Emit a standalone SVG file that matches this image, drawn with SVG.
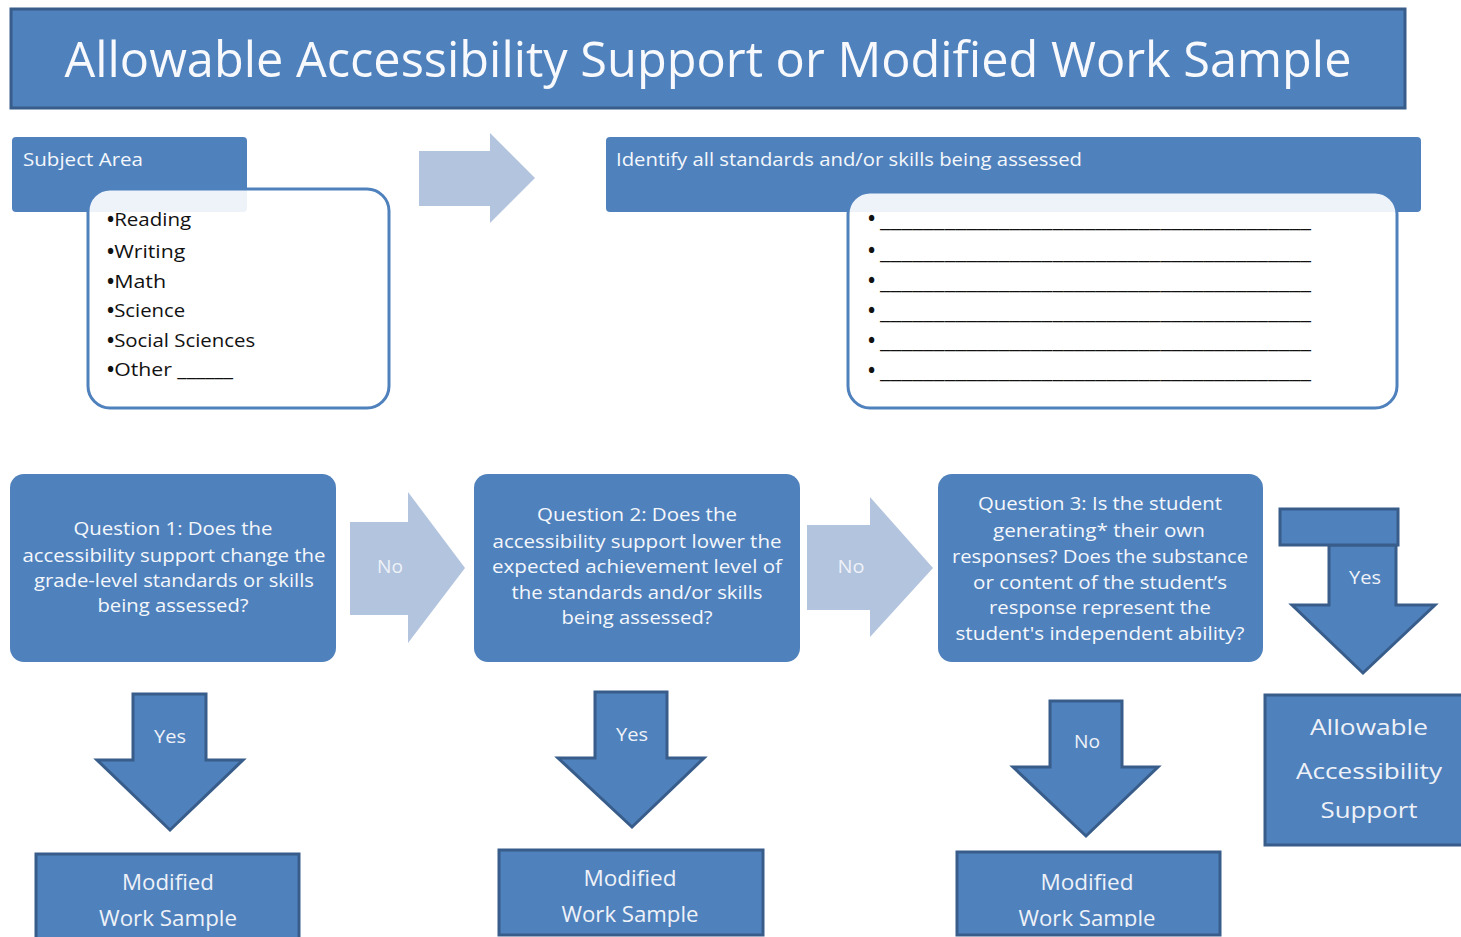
<svg xmlns="http://www.w3.org/2000/svg" width="1461" height="937" viewBox="0 0 1461 937">
<style>
text{font-family:"Open Sans","Noto Sans","Liberation Sans",sans-serif}
.fill{fill:#4F81BD}
.dark{fill:#4F81BD;stroke:#385D8A;stroke-width:3}
.light{fill:#B3C4DE}
.w{fill:#F4F7FB}
.q{font-size:19px;fill:#F4F7FB;text-anchor:middle}
.k{font-size:18.5px;fill:#111}
.b{font-size:19px;font-weight:bold}
.lab{font-size:18px;fill:#EEF2F8;text-anchor:middle}
.mod{font-size:22px;fill:#EEF2F8;text-anchor:middle}
.box{fill:#FFFFFF;fill-opacity:0.9;stroke:#4F81BD;stroke-width:3}
</style>
<defs>
<clipPath id="clip3"><rect x="957" y="852" width="263" height="75"/></clipPath>
</defs>
<rect width="1461" height="937" fill="#FFFFFF"/>

<g id="title">
<rect class="dark" x="11" y="9" width="1394" height="99"/>
<text x="708" y="77" font-size="50" fill="#F7F9FC" text-anchor="middle" textLength="1287" lengthAdjust="spacingAndGlyphs">Allowable Accessibility Support or Modified Work Sample</text>
</g>

<g id="subject-area">
<rect class="fill" x="12" y="137" width="235" height="75" rx="4"/>
<text x="23" y="166" font-size="19" class="w" textLength="120" lengthAdjust="spacingAndGlyphs">Subject Area</text>
<rect class="box" x="88" y="189" width="301" height="219" rx="22"/>
<text class="k" x="107" y="226"><tspan class="b">•</tspan><tspan textLength="77" lengthAdjust="spacingAndGlyphs">Reading</tspan></text>
<text class="k" x="107" y="258"><tspan class="b">•</tspan><tspan textLength="71" lengthAdjust="spacingAndGlyphs">Writing</tspan></text>
<text class="k" x="107" y="288"><tspan class="b">•</tspan><tspan textLength="52" lengthAdjust="spacingAndGlyphs">Math</tspan></text>
<text class="k" x="107" y="317"><tspan class="b">•</tspan><tspan textLength="71" lengthAdjust="spacingAndGlyphs">Science</tspan></text>
<text class="k" x="107" y="347"><tspan class="b">•</tspan><tspan textLength="141" lengthAdjust="spacingAndGlyphs">Social Sciences</tspan></text>
<text class="k" x="107" y="376"><tspan class="b">•</tspan><tspan textLength="119" lengthAdjust="spacingAndGlyphs">Other ______</tspan></text>
</g>

<g id="standards">
<rect class="fill" x="606" y="137" width="815" height="75" rx="4"/>
<text x="616" y="166" font-size="19" class="w" textLength="466" lengthAdjust="spacingAndGlyphs">Identify all standards and/or skills being assessed</text>
<rect class="box" x="848" y="192" width="549" height="216" rx="22"/>
<g class="k">
<text x="868" y="225" class="b">•</text><text x="880" y="227" textLength="431" lengthAdjust="spacingAndGlyphs">________________________________________</text>
<text x="868" y="257" class="b">•</text><text x="880" y="259" textLength="431" lengthAdjust="spacingAndGlyphs">________________________________________</text>
<text x="868" y="287" class="b">•</text><text x="880" y="289" textLength="431" lengthAdjust="spacingAndGlyphs">________________________________________</text>
<text x="868" y="317" class="b">•</text><text x="880" y="319" textLength="431" lengthAdjust="spacingAndGlyphs">________________________________________</text>
<text x="868" y="347" class="b">•</text><text x="880" y="348" textLength="431" lengthAdjust="spacingAndGlyphs">________________________________________</text>
<text x="868" y="377" class="b">•</text><text x="880" y="378" textLength="431" lengthAdjust="spacingAndGlyphs">________________________________________</text>
</g>
</g>

<g id="question1">
<rect class="fill" x="10" y="474" width="326" height="188" rx="14"/>
<text class="q" x="173" y="535" textLength="199" lengthAdjust="spacingAndGlyphs">Question 1: Does the</text>
<text class="q" x="174" y="562" textLength="303" lengthAdjust="spacingAndGlyphs">accessibility support change the</text>
<text class="q" x="174" y="587" textLength="280" lengthAdjust="spacingAndGlyphs">grade-level standards or skills</text>
<text class="q" x="173" y="612" textLength="151" lengthAdjust="spacingAndGlyphs">being assessed?</text>
</g>

<g id="question2">
<rect class="fill" x="474" y="474" width="326" height="188" rx="14"/>
<text class="q" x="637" y="521" textLength="200" lengthAdjust="spacingAndGlyphs">Question 2: Does the</text>
<text class="q" x="637" y="548" textLength="289" lengthAdjust="spacingAndGlyphs">accessibility support lower the</text>
<text class="q" x="637" y="573" textLength="290" lengthAdjust="spacingAndGlyphs">expected achievement level of</text>
<text class="q" x="637" y="599" textLength="251" lengthAdjust="spacingAndGlyphs">the standards and/or skills</text>
<text class="q" x="637" y="624" textLength="151" lengthAdjust="spacingAndGlyphs">being assessed?</text>
</g>

<g id="question3">
<rect class="fill" x="938" y="474" width="325" height="188" rx="14"/>
<text class="q" x="1100" y="510" textLength="244" lengthAdjust="spacingAndGlyphs">Question 3: Is the student</text>
<text class="q" x="1099" y="537" textLength="212" lengthAdjust="spacingAndGlyphs">generating* their own</text>
<text class="q" x="1100" y="563" textLength="296" lengthAdjust="spacingAndGlyphs">responses? Does the substance</text>
<text class="q" x="1100" y="589" textLength="254" lengthAdjust="spacingAndGlyphs">or content of the student’s</text>
<text class="q" x="1100" y="614" textLength="222" lengthAdjust="spacingAndGlyphs">response represent the</text>
<text class="q" x="1100" y="640" textLength="289" lengthAdjust="spacingAndGlyphs">student's independent ability?</text>
</g>

<g id="modified1">
<rect class="dark" x="36" y="854" width="263" height="100"/>
<text class="mod" x="168" y="890" textLength="92" lengthAdjust="spacingAndGlyphs">Modified</text>
<text class="mod" x="168" y="926" textLength="138" lengthAdjust="spacingAndGlyphs">Work Sample</text>
</g>

<g id="modified2">
<rect class="dark" x="499" y="850" width="264" height="85"/>
<text class="mod" x="630" y="886" textLength="93" lengthAdjust="spacingAndGlyphs">Modified</text>
<text class="mod" x="630" y="922" textLength="137" lengthAdjust="spacingAndGlyphs">Work Sample</text>
</g>

<g id="modified3">
<rect class="dark" x="957" y="852" width="263" height="83"/>
<text class="mod" x="1087" y="890" textLength="93" lengthAdjust="spacingAndGlyphs">Modified</text>
<text class="mod" x="1087" y="926" textLength="137" lengthAdjust="spacingAndGlyphs" clip-path="url(#clip3)">Work Sample</text>
</g>

<g id="allowable">
<rect class="dark" x="1265" y="695" width="210" height="150"/>
<text class="mod" x="1369" y="735" font-size="27" textLength="118" lengthAdjust="spacingAndGlyphs">Allowable</text>
<text class="mod" x="1369" y="779" font-size="27" textLength="146" lengthAdjust="spacingAndGlyphs">Accessibility</text>
<text class="mod" x="1369" y="818" font-size="27" textLength="97" lengthAdjust="spacingAndGlyphs">Support</text>
</g>

<g id="connectors">
<polygon class="light" points="419,151 490,151 490,133 535,178 490,223 490,206 419,206"/>
<polygon class="light" points="350,522 408,522 408,492 465,568 408,643 408,615 350,615"/>
<text class="lab" x="390" y="573" textLength="26" lengthAdjust="spacingAndGlyphs">No</text>
<polygon class="light" points="807,525 870,525 870,497 933,568 870,637 870,610 807,610"/>
<text class="lab" x="851" y="573" textLength="27" lengthAdjust="spacingAndGlyphs">No</text>

<polygon class="dark" points="133,694 206,694 206,760 243,760 170,830 97,760 133,760"/>
<text class="lab" x="170" y="743" textLength="32" lengthAdjust="spacingAndGlyphs">Yes</text>
<polygon class="dark" points="595,692 667,692 667,758 704,758 632,827 558,758 595,758"/>
<text class="lab" x="632" y="741" textLength="32" lengthAdjust="spacingAndGlyphs">Yes</text>
<polygon class="dark" points="1050,701 1122,701 1122,767 1158,767 1086,836 1013,767 1050,767"/>
<text class="lab" x="1087" y="748" textLength="26" lengthAdjust="spacingAndGlyphs">No</text>

<polygon class="dark" points="1329,545 1396,545 1396,605 1435,605 1363,673 1292,605 1329,605"/>
<rect class="dark" x="1280" y="509" width="118" height="36"/>
<text class="lab" x="1365" y="584" textLength="32" lengthAdjust="spacingAndGlyphs">Yes</text>
</g>
</svg>
